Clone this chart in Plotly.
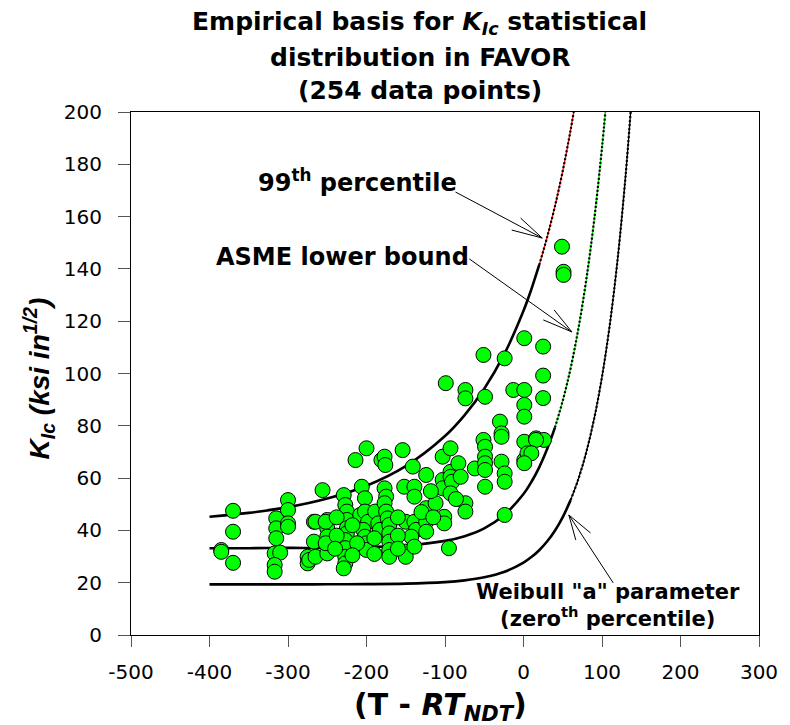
import plotly.graph_objects as go

# ---------------- data ----------------
# 99th percentile curve
pct99_T = [-400, -350, -300, -250, -200, -150, -100, -75, -50, -25, 0, 10, 20, 30, 40, 50, 60, 64]
pct99_K = [45.2, 46.7, 48.9, 52.2, 57.1, 64.6, 76.1, 84.1, 94.2, 107.1, 124.0, 132.2, 141.5, 152.0,
           163.9, 177.5, 193.1, 200.0]
# ASME lower bound curve
asme_T = [-400, -350, -300, -250, -200, -150, -100, -75, -50, -25, 0, 10, 20, 30, 40, 50, 60, 70, 80,
          90, 100, 104.3]
asme_K = [33.2, 33.2, 33.3, 33.3, 33.6, 34.2, 36.0, 37.8, 40.8, 45.8, 53.9, 58.5, 64.1, 71.0, 79.3,
          89.6, 102.0, 117.3, 135.9, 158.6, 186.4, 200.1]
# Weibull "a" parameter curve
weib_T = [-400, -300, -250, -200, -150, -100, -75, -50, -25, 0, 10, 20, 30, 40, 50, 60, 70, 80, 90,
          100, 110, 120, 130, 136.5]
weib_K = [19.35, 19.36, 19.38, 19.44, 19.63, 20.23, 20.89, 22.05, 24.09, 27.69, 29.79, 32.43, 35.74,
          39.88, 45.08, 51.58, 59.73, 69.94, 82.73, 98.75, 118.82, 143.96, 175.46, 200.1]

# K_Ic data points (T - RT_NDT, K_Ic)
data_T = [-370, -370, -385, -385, -370,
          -315, -315, -315, -317, -310, -317, -317,
          -300, -300, -300, -300,
          -275, -275, -273, -267, -267, -265, -265, -256,
          -250, -250, -250, -250, -250, -252, -252,
          -229, -227, -225, -225, -225, -225, -227, -227, -227, -227, -229,
          -214, -200, -206, -202, -208, -202, -198, -204, -202, -200, -200, -212,
          -189, -185, -183, -181, -177, -176, -177, -175, -177, -175, -173, -171, -171, -171, -171, -171,
          -154, -152, -139, -139, -141, -150, -139, -137, -143, -150, -150, -139,
          -124, -124, -124, -124, -112, -101, -101, -103, -99, -103, -103,
          -93, -93, -93, -91, -93, -95, -83, -80, -74, -74, -74, -74, -62,
          -51, -49, -51, -49, -49, -49, -49, -49,
          -30, -28, -28, -28, -24, -24, -24, -24, -13,
          1, 1, 1, 1, 1, 5, 16, 1, 25, 25, 25, 26, 16, 10, 1,
          49, 51, 51,
          -238, -238, -240, -218, -218, -190, -190, -160, -160, -160, -130, -118, -115, -86]
data_K = [47.5, 39.5, 32.5, 31.8, 27.6,
          44.6, 40.8, 37.0, 31.2, 31.5, 26.8, 24.2,
          51.6, 47.8, 42.7, 41.4,
          29.9, 27.4, 28.7, 43.3, 35.7, 29.9, 43.3, 55.4,
          44.0, 40.8, 37.6, 34.4, 31.2, 43.3, 35.1,
          53.5, 49.7, 47.2, 44.0, 40.8, 38.9, 36.3, 33.2, 29.9, 27.4, 25.5,
          66.9, 71.4, 56.7, 52.3, 45.9, 47.2, 43.3, 40.2, 37.6, 35.1, 32.5, 35.1,
          47.2, 42.7, 40.2, 66.9, 68.2, 65.0, 56.1, 52.9, 50.4, 47.2, 44.6, 42.1, 38.9, 35.7, 32.5, 29.9,
          70.7, 56.7, 56.7, 52.9, 64.4, 43.3, 43.3, 40.2, 37.6, 31.9, 29.9, 33.8,
          61.2, 48.5, 43.3, 39.5, 50.4, 45.2, 42.7, 68.2, 96.3, 59.3, 56.1,
          71.4, 62.4, 60.5, 58.6, 54.2, 33.2, 65.7, 60.5, 93.7, 90.5, 50.4, 47.2, 63.7,
          107.1, 91.1, 74.6, 72.0, 68.2, 65.7, 63.1, 56.7,
          81.6, 77.1, 75.8, 66.3, 61.8, 58.6, 45.9, 105.8, 93.7,
          93.7, 88.0, 83.5, 73.9, 66.9, 69.5, 75.2, 113.5, 110.3, 99.2, 90.6, 74.6, 74.6, 69.5, 65.7,
          148.5, 138.9, 137.7,
          45.0, 38.0, 33.0, 42.0, 30.5, 37.0, 31.0, 45.0, 38.0, 33.0, 47.0, 55.0, 45.0, 52.0]

x_ticks = [-500, -400, -300, -200, -100, 0, 100, 200, 300]
x_tick_text = ["-500", "-400", "-300", "-200", "-100", "0", "100", "200", "300"]
y_ticks = [0, 20, 40, 60, 80, 100, 120, 140, 160, 180, 200]

# ---------------- style / layout ----------------
W, H = 790, 725
ML, MR, MT, MB = 131, 22, 112, 90
X_RANGE, Y_RANGE = [-500, 300], [0, 200]
PX_X = (W - ML - MR) / (X_RANGE[1] - X_RANGE[0])   # pixels per data unit
PX_Y = (H - MT - MB) / (Y_RANGE[1] - Y_RANGE[0])

split99, split_asme, split_weib = 12, 14, 15   # index where the steep, dotted part begins
SANS = "DejaVu Sans"
fig = go.Figure()


def add_curve(T, K, split, color):
    fig.add_trace(go.Scatter(x=T[:split + 1], y=K[:split + 1], mode="lines",
                             line=dict(color="black", width=2.6, shape="spline"),
                             hoverinfo="skip", showlegend=False))
    fig.add_trace(go.Scatter(x=T[split:], y=K[split:], mode="lines",
                             line=dict(color=color, width=1.3, shape="spline"),
                             hoverinfo="skip", showlegend=False))
    fig.add_trace(go.Scatter(x=T[split:], y=K[split:], mode="lines",
                             line=dict(color="black", width=2.2, shape="spline", dash="2px,2px"),
                             hoverinfo="skip", showlegend=False))


add_curve(weib_T, weib_K, split_weib, "black")
add_curve(asme_T, asme_K, split_asme, "rgb(0,230,0)")
add_curve(pct99_T, pct99_K, split99, "red")

fig.add_trace(go.Scatter(x=data_T, y=data_K, mode="markers",
                         marker=dict(symbol="circle", size=15, color="rgb(0,255,0)",
                                     line=dict(color="black", width=1)),
                         showlegend=False))

ann = []
shapes = []


def txt(x, y, s, size, xref="x", yref="y", angle=0, family=SANS):
    ann.append(dict(x=x, y=y, xref=xref, yref=yref, text=s, showarrow=False,
                    textangle=angle, xanchor="center", yanchor="middle",
                    font=dict(family=family, size=size, color="black")))


def arrow(x, y, dx, dy, heads):
    """Leader line from a pixel offset (dx, dy) to the tip (x, y), with an open V head."""
    def pt(ox, oy):
        return f"{x + ox / PX_X},{y - oy / PX_Y}"
    tip = pt(0, 0)
    path = f"M{pt(dx, dy)} L{tip} M{pt(*heads[0])} L{tip} L{pt(*heads[1])}"
    shapes.append(dict(type="path", xref="x", yref="y", path=path,
                       line=dict(color="black", width=1)))


# title lines
txt(0.46, 1.170, "<b>Empirical basis for <i>K<sub>Ic</sub></i> statistical</b>", 25, "paper", "paper")
txt(0.46, 1.104, "<b>distribution in FAVOR</b>", 25, "paper", "paper")
txt(0.46, 1.042, "<b>(254 data points)</b>", 25, "paper", "paper")

# axis titles
txt(0.493, -0.136, "<b>(T - <i>RT<sub>NDT</sub></i>)</b>", 30, "paper", "paper")
txt(-0.146, 0.491, "<b><i>K<sub>Ic</sub> (ksi in<sup>1/2</sup>)</i></b>", 28, "paper", "paper",
    angle=-90, family="Liberation Sans")

# curve labels
txt(-211, 173.5, "<b>99<sup>th</sup> percentile</b>", 24)
arrow(23.9, 151.8, -88, -46, [(-22, -20), (-31, -8)])
txt(-231, 144.6, "<b>ASME lower bound</b>", 24)
arrow(61.6, 115.9, -104, -73, [(-18, -22), (-29, -12)])
txt(107.5, 11.3, "<b>Weibull \"a\" parameter<br>(zero<sup>th</sup> percentile)</b>", 21)
arrow(57.8, 45.9, 45, 68, [(7, 25), (22, 18)])

axis_common = dict(showgrid=False, zeroline=False, showline=True, linecolor="black", linewidth=1,
                   mirror=True, ticks="outside", tickcolor="#555", tickwidth=1,
                   tickfont=dict(family=SANS, size=20, color="black"))

fig.update_layout(
    width=W, height=H,
    margin=dict(l=ML, r=MR, t=MT, b=MB),
    paper_bgcolor="white", plot_bgcolor="white",
    xaxis=dict(range=X_RANGE, tickvals=x_ticks, ticktext=x_tick_text, ticklen=11,
               ticklabelstandoff=8, **axis_common),
    yaxis=dict(range=Y_RANGE, tickvals=y_ticks, ticklen=12, ticklabelstandoff=12, **axis_common),
    annotations=ann,
    shapes=shapes,
    showlegend=False,
)

fig.write_html("out.html")
